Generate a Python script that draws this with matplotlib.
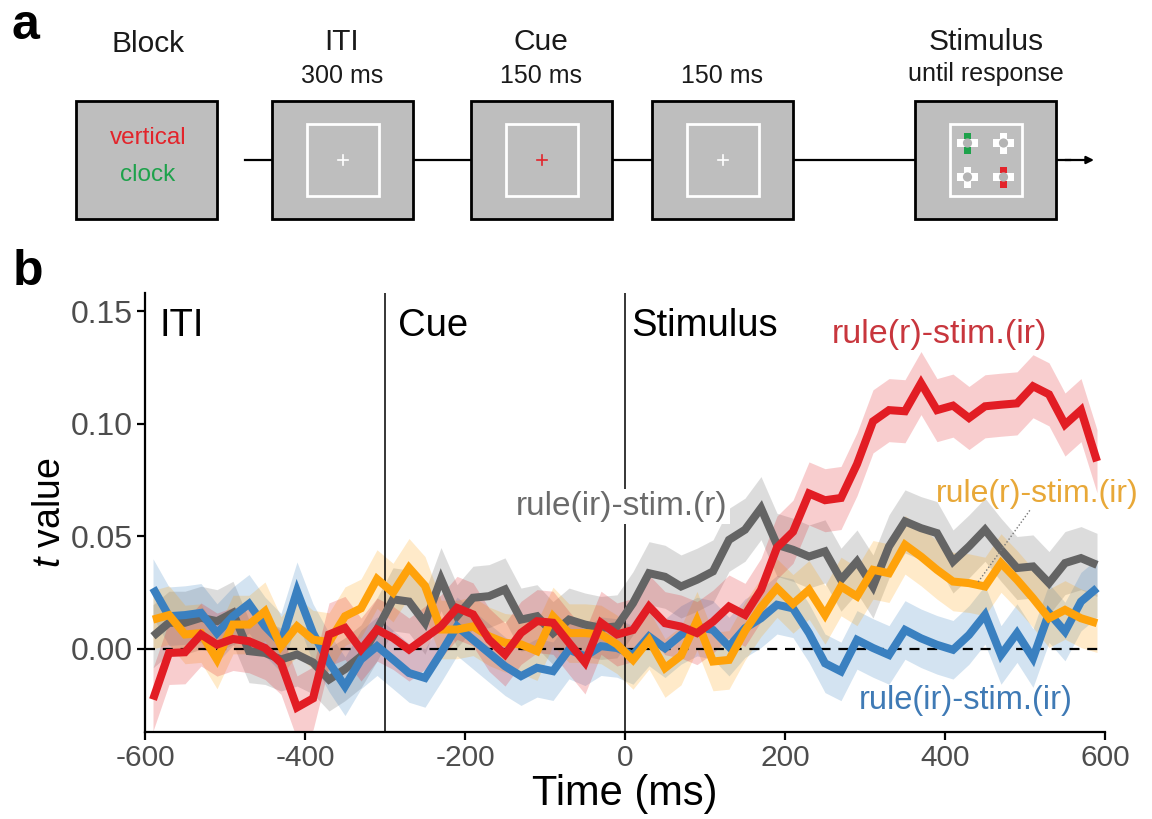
import numpy as np
import matplotlib
matplotlib.use("Agg")
import matplotlib.pyplot as plt
from matplotlib.patches import Rectangle, Circle

plt.rcParams["font.family"] = ["Liberation Sans", "DejaVu Sans"]
plt.rcParams["mathtext.fontset"] = "custom"
plt.rcParams["mathtext.it"] = "Liberation Sans:italic"
plt.rcParams["mathtext.rm"] = "Liberation Sans"

# ---------------- data ----------------
time_ms = np.arange(-590, 591, 20)

red_rule_r_stim_ir = [
    -0.0225, -0.0018, -0.0015, 0.0064, 0.0019, 0.0044, 0.0034, 0.0004, -0.0062, -0.0260,
    -0.0220, 0.0064, 0.0093, -0.0003, 0.0086, 0.0049, -0.0003, 0.0049, 0.0100, 0.0182,
    0.0153, 0.0041, -0.0025, 0.0071, 0.0123, 0.0116, 0.0027, -0.0060, 0.0116, 0.0064,
    0.0084, 0.0188, 0.0114, 0.0099, 0.0070, 0.0121, 0.0188, 0.0151, 0.0262, 0.0450,
    0.0520, 0.0690, 0.0660, 0.0670, 0.0820, 0.1010, 0.1060, 0.1055, 0.1180, 0.1060,
    0.1080, 0.1025, 0.1077, 0.1084, 0.1090, 0.1166, 0.1130, 0.0996, 0.1060, 0.0833,
]
gray_rule_ir_stim_r = [
    0.0056, 0.0116, 0.0116, 0.0138, 0.0123, 0.0160, -0.0010, -0.0018, -0.0047, -0.0025,
    -0.0060, -0.0136, -0.0090, -0.0033, 0.0086, 0.0220, 0.0210, 0.0116, 0.0310, 0.0145,
    0.0227, 0.0234, 0.0264, 0.0130, 0.0145, 0.0070, 0.0130, 0.0108, 0.0093, 0.0100,
    0.0203, 0.0336, 0.0320, 0.0277, 0.0307, 0.0344, 0.0484, 0.0529, 0.0625, 0.0462,
    0.0440, 0.0410, 0.0433, 0.0307, 0.0388, 0.0277, 0.0455, 0.0566, 0.0536, 0.0514,
    0.0388, 0.0455, 0.0529, 0.0440, 0.0359, 0.0366, 0.0292, 0.0381, 0.0403, 0.0373,
]
orange_rule_r_stim_ir = [
    0.0130, 0.0150, 0.0064, 0.0070, -0.0047, 0.0108, 0.0108, 0.0167, 0.0012, 0.0100,
    0.0041, 0.0030, 0.0145, 0.0180, 0.0310, 0.0250, 0.0360, 0.0280, 0.0086, 0.0086,
    0.0100, 0.0056, 0.0027, 0.0020, -0.0010, 0.0144, 0.0070, 0.0070, 0.0064, 0.0020,
    -0.0049, 0.0040, -0.0085, -0.0030, 0.0125, -0.0056, -0.0049, 0.0080, 0.0185, 0.0270,
    0.0200, 0.0262, 0.0151, 0.0277, 0.0233, 0.0351, 0.0336, 0.0462, 0.0410, 0.0351,
    0.0299, 0.0292, 0.0277, 0.0381, 0.0307, 0.0225, 0.0136, 0.0173, 0.0136, 0.0114,
]
blue_rule_ir_stim_ir = [
    0.0270, 0.0145, 0.0150, 0.0160, 0.0070, 0.0145, 0.0200, 0.0100, 0.0027, 0.0256,
    0.0070, -0.0060, -0.0166, -0.0047, 0.0012, -0.0047, -0.0107, -0.0129, -0.0018, 0.0100,
    0.0041, -0.0018, -0.0077, -0.0121, -0.0084, -0.0099, -0.0003, -0.0033, 0.0012, 0.0004,
    -0.0027, 0.0055, 0.0003, 0.0062, 0.0099, 0.0084, 0.0010, 0.0092, 0.0136, 0.0196,
    0.0180, 0.0070, -0.0064, -0.0100, 0.0040, 0.0004, -0.0027, 0.0084, 0.0047, 0.0018,
    -0.0004, 0.0062, 0.0151, -0.0027, 0.0070, -0.0041, 0.0159, 0.0077, 0.0210, 0.0270,
]
# half-width of the shaded error band for each series
band_halfwidth = {"red": 0.014, "gray": 0.014, "orange": 0.013, "blue": 0.013}

x_ticks = [-600, -400, -200, 0, 200, 400, 600]
x_tick_labels = ["-600", "-400", "-200", "0", "200", "400", "600"]
y_ticks = [0.00, 0.05, 0.10, 0.15]
y_tick_labels = ["0.00", "0.05", "0.10", "0.15"]

phase_onsets = [-300, 0]
phase_names = ["ITI", "Cue", "Stimulus"]
phase_label_x = [-582, -284, 8]

# ---------------- figure ----------------
W, H = 1152, 819
fig = plt.figure(figsize=(W / 100, H / 100), dpi=100)

# overlay in pixel coordinates for the trial schematic
ov = fig.add_axes([0, 0, 1, 1])
ov.set_xlim(0, W)
ov.set_ylim(H, 0)
ov.axis("off")

box_gray = "#bebebe"
box_w, box_h = 141, 118
box_top = 101
line_y = 160
box_left = [76, 272, 471, 652, 915]

# timeline
ov.plot([245, 1070], [line_y, line_y], color="black", lw=1.6, zorder=1)
ov.annotate("", xy=(1094, line_y), xytext=(1065, line_y),
            arrowprops=dict(arrowstyle="-|>", lw=1.6, color="black",
                            mutation_scale=11, shrinkA=0, shrinkB=0), zorder=1)

for xl in box_left:
    ov.add_patch(Rectangle((xl, box_top), box_w, box_h, facecolor=box_gray,
                           edgecolor="black", lw=2.0, zorder=2))

inner = 72
def inner_frame(xl):
    cx = xl + box_w / 2
    ov.add_patch(Rectangle((cx - inner / 2, line_y - inner / 2), inner, inner,
                           facecolor="none", edgecolor="white", lw=2.0, zorder=3))
    return cx

def fixation(cx, color):
    s = 5
    ov.plot([cx - s, cx + s], [line_y, line_y], color=color, lw=1.2, zorder=4)
    ov.plot([cx, cx], [line_y - s, line_y + s], color=color, lw=1.2, zorder=4)

cx = inner_frame(box_left[1]); fixation(cx, "white")
cx = inner_frame(box_left[2]); fixation(cx, "#e3242b")
cx = inner_frame(box_left[3]); fixation(cx, "white")
cx = inner_frame(box_left[4])

# stimulus array: four crosses, two with coloured vertical bars
def stim_cross(x, y, vcolor):
    arm, thick = 10.5, 3.6
    ov.add_patch(Rectangle((x - thick, y - arm), 2 * thick, 2 * arm,
                           facecolor=vcolor, edgecolor="none", zorder=4))
    ov.add_patch(Rectangle((x - arm, y - thick), 2 * arm, 2 * thick,
                           facecolor="white", edgecolor="none", zorder=4))
    ov.add_patch(Circle((x, y), 4.6, facecolor="#b4b4b4", edgecolor="none", zorder=5))

stim_cross(cx - 18, line_y - 17, "#1ea24b")
stim_cross(cx + 18, line_y - 17, "white")
stim_cross(cx - 18, line_y + 17, "white")
stim_cross(cx + 18, line_y + 17, "#e3242b")

ov.text(148, 138, "vertical", color="#e3242b", fontsize=17.5, ha="center", va="center", zorder=6)
ov.text(148, 175, "clock", color="#1ea24b", fontsize=17.5, ha="center", va="center", zorder=6)

title_kw = dict(ha="center", va="center", color="#1a1a1a")
ov.text(148, 44, "Block", fontsize=21.5, **title_kw)
ov.text(342, 42, "ITI", fontsize=21.5, **title_kw)
ov.text(342, 76, "300 ms", fontsize=18, **title_kw)
ov.text(541, 42, "Cue", fontsize=21.5, **title_kw)
ov.text(541, 76, "150 ms", fontsize=18, **title_kw)
ov.text(722, 76, "150 ms", fontsize=18, **title_kw)
ov.text(986, 42, "Stimulus", fontsize=21.5, **title_kw)
ov.text(986, 74, "until response", fontsize=18, **title_kw)

ov.text(25, 26, "a", fontsize=36, fontweight="bold", ha="center", va="center")
ov.text(28, 272, "b", fontsize=36, fontweight="bold", ha="center", va="center")

# ---------------- panel b ----------------
ax_left, ax_right, ax_top, ax_bottom = 145, 1105, 293, 732
ax = fig.add_axes([ax_left / W, (H - ax_bottom) / H,
                   (ax_right - ax_left) / W, (ax_bottom - ax_top) / H])
ax.set_xlim(-600, 600)
ax.set_ylim(-0.0369, 0.158)
ax.patch.set_alpha(0)

series = [
    ("gray", gray_rule_ir_stim_r, "#646464"),
    ("blue", blue_rule_ir_stim_ir, "#3a80c0"),
    ("orange", orange_rule_r_stim_ir, "#ffa20a"),
    ("red", red_rule_r_stim_ir, "#e21d24"),
]
for key, vals, col in series:
    v = np.asarray(vals)
    hw = band_halfwidth[key]
    ax.fill_between(time_ms, v - hw, v + hw, color=col, alpha=0.22, lw=0, zorder=1)

ax.axhline(0, color="black", lw=1.6, ls=(0, (4.5, 3.5)), zorder=2)
for xo in phase_onsets:
    ax.axvline(xo, color="black", lw=1.1, zorder=2)

for i, (key, vals, col) in enumerate(series):
    ax.plot(time_ms, vals, color=col, lw=5.8, solid_joinstyle="miter",
            solid_capstyle="butt", zorder=4 + i)

for name, xp in zip(phase_names, phase_label_x):
    ax.text(xp, 0.1435, name, fontsize=27.5, ha="left", va="center", color="black", zorder=9)

ax.text(393, 0.1395, "rule(r)-stim.(ir)", fontsize=24.5, color="#c8363d",
        ha="center", va="center", zorder=9)
ax.text(-4, 0.0632, "rule(ir)-stim.(r)", fontsize=24, color="#6b6b6b",
        ha="center", va="center", zorder=9,
        bbox=dict(facecolor="white", edgecolor="none", pad=1.5))
ax.text(515, 0.0686, "rule(r)-stim.(ir)", fontsize=23, color="#e8a838",
        ha="center", va="center", zorder=9)
ax.text(426, -0.0228, "rule(ir)-stim.(ir)", fontsize=23.5, color="#3f7ab5",
        ha="center", va="center", zorder=9)
ax.plot([506, 441], [0.0615, 0.0295], color="#777777", lw=1.0, ls=(0, (1, 1.5)), zorder=9)

for side in ("top", "right"):
    ax.spines[side].set_visible(False)
for side in ("left", "bottom"):
    ax.spines[side].set_linewidth(1.6)
    ax.spines[side].set_color("black")

ax.set_xticks(x_ticks)
ax.set_xticklabels(x_tick_labels)
ax.set_yticks(y_ticks)
ax.set_yticklabels(y_tick_labels)
ax.tick_params(axis="both", length=6, width=1.6, color="black",
               labelcolor="#4d4d4d", pad=3)
ax.tick_params(axis="x", labelsize=21.5)
ax.tick_params(axis="y", labelsize=23)

ax.set_xlabel("Time (ms)", fontsize=30, color="black", labelpad=1)
ax.set_ylabel("$t$ value", fontsize=27, color="black", labelpad=2)

fig.savefig("out.png", dpi=100)
